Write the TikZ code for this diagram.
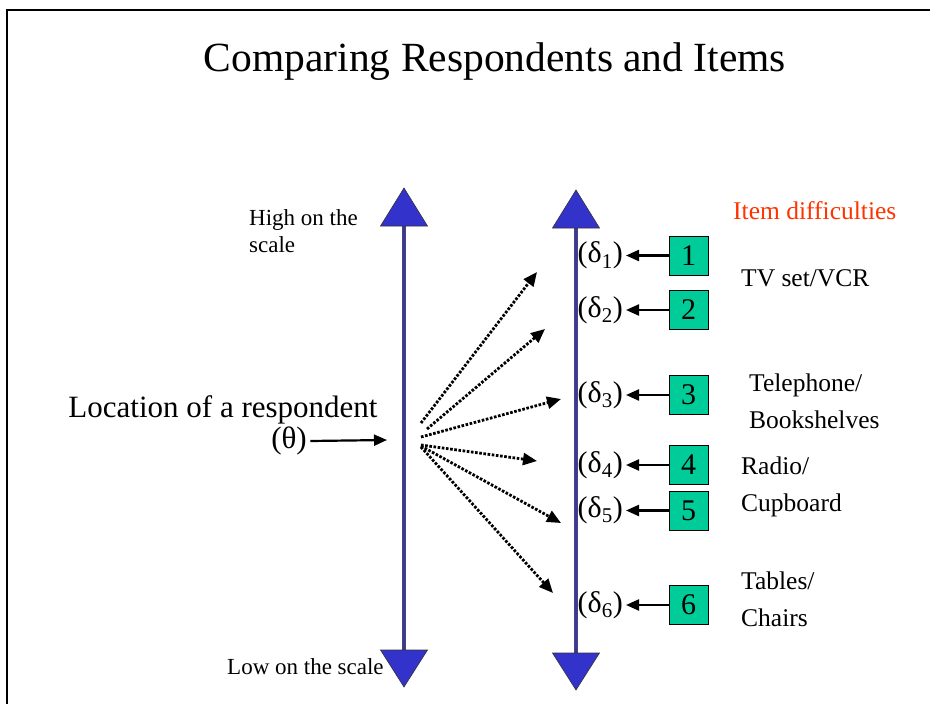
\documentclass[tikz,border=0pt]{standalone}
\usepackage{fontspec}
\setmainfont{Liberation Serif}
\usetikzlibrary{arrows.meta,positioning}

\definecolor{scaleblue}{RGB}{51,51,204}
\definecolor{itemgreen}{RGB}{0,204,153}
\definecolor{headred}{RGB}{255,51,0}

\newcommand{\setsz}[2]{\fontsize{#1}{#2}\selectfont}

\tikzset{
  itembox/.style={draw=black, line width=0.6pt, fill=itemgreen, minimum size=39pt, inner sep=0pt, font=\setsz{30}{34}},
  dlabel/.style={inner sep=0pt, font=\setsz{30}{34}},
  itemtext/.style={anchor=west, align=left, inner sep=0pt, font=\setsz{25.5}{37}},
  solidarrow/.style={-{Triangle[length=13pt,width=11pt]}, line width=2.2pt},
  fanarrow/.style={-{Triangle[length=14pt,width=12pt]}, line width=2.8pt, dash pattern=on 2.6pt off 1.6pt},
  scaleline/.style={draw=black!70, line width=0.8pt, double=scaleblue, double distance=2.4pt},
  scalehead/.style={fill=scaleblue, draw=black!80, line width=0.6pt},
}

\begin{document}
\begin{tikzpicture}[x=1pt, y=-1pt]
  \useasboundingbox (0,0) rectangle (930,704);

  % Frame
  \draw[line width=2pt] (7,704) -- (7,10) -- (930,10);

  % Title
  \node[font=\setsz{41.5}{48}] (title) at (495,62) {Comparing Respondents and Items};

  % Scales
  \foreach \x/\t/\b in {404/188/687, 576/190/690} {
    \draw[scaleline] (\x,\t+38) -- (\x,\b-37);
    \draw[scalehead] (\x-23.5,\t+38) -- (\x,\t) -- (\x+23.5,\t+38) -- cycle;
    \draw[scalehead] (\x-23.5,\b-37) -- (\x,\b) -- (\x+23.5,\b-37) -- cycle;
  }

  % Scale ends
  \node[anchor=west, align=left, inner sep=0pt, font=\setsz{23}{27}] (high) at (249,231) {High on the\\scale};
  \node[anchor=west, inner sep=0pt, font=\setsz{23}{27}] (low) at (227,667) {Low on the scale};

  % Respondent
  \node[font=\setsz{31}{36}] (loc) at (223,410) {Location of a respondent};
  \node[font=\setsz{31}{36}] (theta) at (289,441) {(θ)};
  \coordinate (resp) at (387,440);
  \draw[solidarrow] (theta.east) -- (resp);

  % Fan of comparisons
  \foreach \i/\sx/\sy/\tx/\ty in {1/421/423/537/272, 2/427/429/545/329, 3/421/437/561/399,
                                   4/421/445/537/461, 5/421/446/561/523, 6/421/447/553/593} {
    \coordinate (s\i) at (\sx,\sy);
    \coordinate (t\i) at (\tx,\ty);
    \draw[fanarrow] (s\i) -- (t\i);
  }

  % Items
  \foreach \i/\y in {1/255.5, 2/310, 3/395, 4/465, 5/510.5, 6/605} {
    \node[itembox] (b\i) at (688.5,\y) {\i};
    \node[dlabel, anchor=east] (d\i) at (623,\y) {(δ\textsubscript{\i})};
    \draw[solidarrow, shorten >=3pt] (b\i.west) -- (b\i.west -| d\i.east);
  }

  % Item names
  \node[itemtext, text=headred] (diff) at (733,211) {Item difficulties};
  \node[itemtext] (tv) at (741,278) {TV set/VCR};
  \node[itemtext] (tel) at (749,401) {Telephone/\\Bookshelves};
  \node[itemtext] (radio) at (741,487) {Radio/\\Cupboard};
  \node[itemtext] (table) at (741,599) {Tables/\\Chairs};
\end{tikzpicture}
\end{document}
